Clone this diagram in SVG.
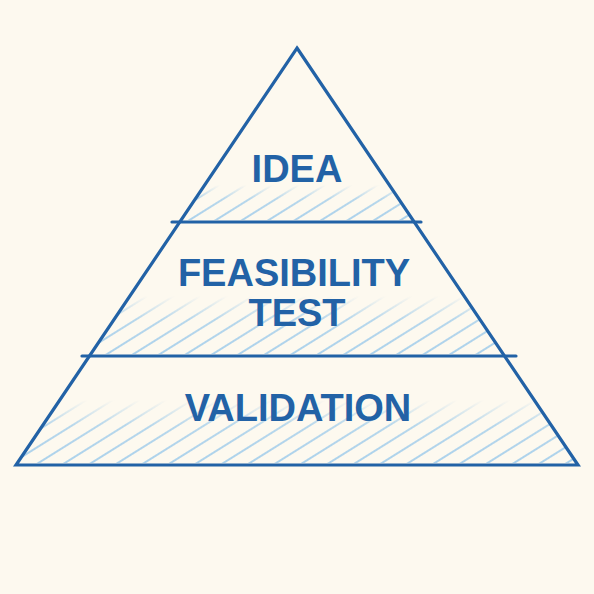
<svg xmlns="http://www.w3.org/2000/svg" width="594" height="594" viewBox="0 0 594 594">
<defs>
<style>
.edge{fill:none;stroke:#2262a6;stroke-width:3.2;stroke-linejoin:miter;stroke-linecap:round}
.lbl{font-family:"Liberation Sans",Arial,sans-serif;font-weight:bold;font-size:38px;fill:#2262a6;text-anchor:middle}
</style>
<pattern id="hatch" patternUnits="userSpaceOnUse" width="14" height="14" patternTransform="rotate(-32)">
<line x1="0" y1="7" x2="14" y2="7" stroke="#90c4ea" stroke-width="1.5"/>
</pattern>
<linearGradient id="fade" x1="0" y1="0" x2="0" y2="1">
<stop offset="0" stop-color="#fff" stop-opacity="0"/>
<stop offset="0.4" stop-color="#fff" stop-opacity="0.85"/>
<stop offset="1" stop-color="#fff" stop-opacity="1"/>
</linearGradient>
<mask id="m1" maskContentUnits="objectBoundingBox"><rect width="1" height="1" fill="url(#fade)"/></mask>
</defs>
<rect width="594" height="594" fill="#fdf9ef"/>
<g id="hatching">
<polygon points="205,185 389,185 413,220 181,220" fill="url(#hatch)" mask="url(#m1)"/>
<polygon points="130,296 464,296 503,354 91,354" fill="url(#hatch)" mask="url(#m1)"/>
<polygon points="60,400 534,400 577,463 17,463" fill="url(#hatch)" mask="url(#m1)"/>
</g>
<g id="pyramid">
<polygon class="edge" points="297,48 578,465 16,465"/>
</g>
<g id="dividers">
<line class="edge" x1="172" y1="222" x2="421" y2="222"/>
<line class="edge" x1="82" y1="356" x2="516" y2="356"/>
</g>
<g id="idea"><text class="lbl" x="297" y="182">IDEA</text></g>
<g id="feasibility"><text class="lbl" x="294" y="286">FEASIBILITY</text><text class="lbl" x="297" y="326">TEST</text></g>
<g id="validation"><text class="lbl" x="298" y="421">VALIDATION</text></g>
</svg>
